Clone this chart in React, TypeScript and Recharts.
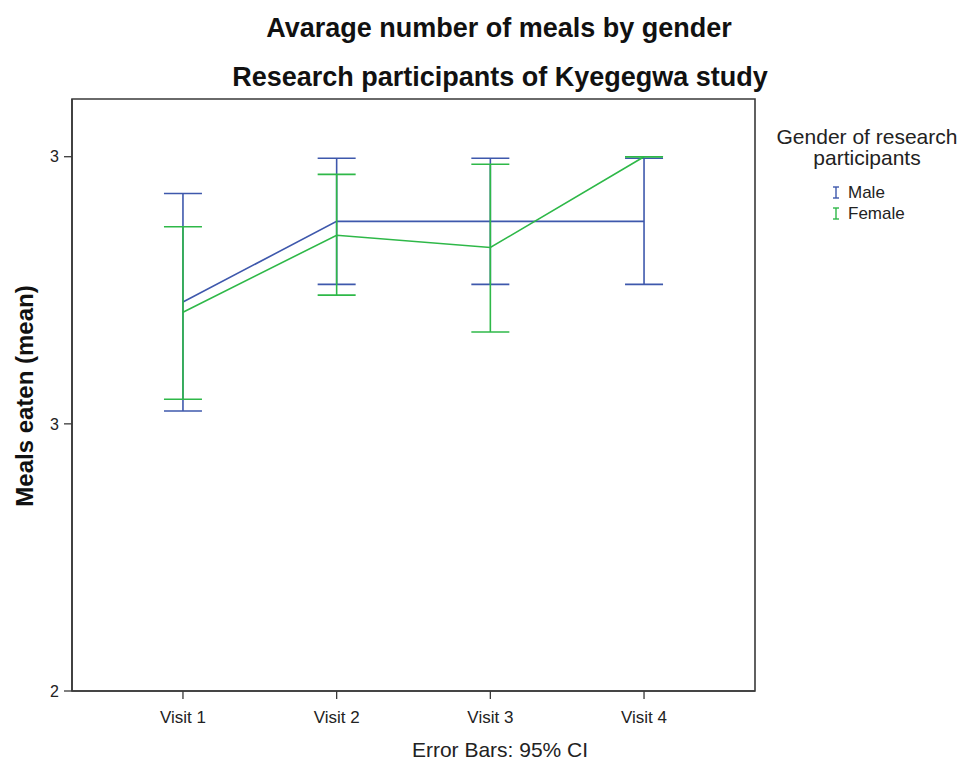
import { LineChart, Line, XAxis, YAxis, ErrorBar, ReferenceArea } from "recharts";

const visits = ["Visit 1", "Visit 2", "Visit 3", "Visit 4"];

// means and 95% CI bounds
const maleMean = [2.728, 2.879, 2.879, 2.879];
const maleLow = [2.524, 2.761, 2.761, 2.761];
const maleHigh = [2.931, 2.997, 2.997, 2.997];

const femaleMean = [2.709, 2.853, 2.83, 3.0];
const femaleLow = [2.546, 2.741, 2.672, 3.0];
const femaleHigh = [2.869, 2.967, 2.986, 3.0];

const yTicks = [2, 2.5, 3];

const X_DOMAIN: [number, number] = [0.278, 4.722];
const Y_DOMAIN: [number, number] = [2, 3.108];

const BLUE = "#3e58ac";
const GREEN = "#2eb848";
const FONT = "'Liberation Sans', Arial, sans-serif";

const data = visits.map((v, i) => ({
  x: i + 1,
  visit: v,
  male: maleMean[i],
  female: femaleMean[i],
  maleErr: [maleMean[i] - maleLow[i], maleHigh[i] - maleMean[i]],
  femaleErr: [femaleMean[i] - femaleLow[i], femaleHigh[i] - femaleMean[i]],
}));

function BarIcon({ color }: { color: string }) {
  return (
    <svg width={8} height={13} style={{ marginRight: 8 }}>
      <line x1={1} y1={1} x2={7} y2={1} stroke={color} strokeWidth={1.4} />
      <line x1={4} y1={1} x2={4} y2={12} stroke={color} strokeWidth={1.4} />
      <line x1={1} y1={12} x2={7} y2={12} stroke={color} strokeWidth={1.4} />
    </svg>
  );
}

export default function App() {
  const frame = "#3a3a3a";
  return (
    <div
      style={{
        position: "absolute",
        left: 0,
        top: 0,
        width: 961,
        height: 763,
        background: "#fff",
        fontFamily: FONT,
      }}
    >
      <div
        style={{
          position: "absolute",
          left: 0,
          width: 998,
          top: 13,
          textAlign: "center",
          fontSize: 27,
          fontWeight: "bold",
          color: "#111",
          whiteSpace: "nowrap",
        }}
      >
        Avarage number of meals by gender
      </div>
      <div
        style={{
          position: "absolute",
          left: 0,
          width: 1000,
          top: 62,
          textAlign: "center",
          fontSize: 27,
          fontWeight: "bold",
          color: "#111",
          whiteSpace: "nowrap",
        }}
      >
        Research participants of Kyegegwa study
      </div>

      <LineChart
        width={961}
        height={763}
        data={data}
        margin={{ top: 99, right: 206, bottom: 42, left: 42 }}
      >
        <XAxis
          dataKey="x"
          type="number"
          domain={X_DOMAIN}
          ticks={[1, 2, 3, 4]}
          tickFormatter={(v: number) => visits[v - 1]}
          height={30}
          tickSize={8}
          tickMargin={12}
          axisLine={{ stroke: frame, strokeWidth: 1.6 }}
          tickLine={{ stroke: frame, strokeWidth: 1.3 }}
          tick={{ fill: "#222", fontSize: 17, fontFamily: FONT }}
          allowDataOverflow
        />
        <YAxis
          type="number"
          domain={Y_DOMAIN}
          ticks={yTicks}
          tickFormatter={(v: number) => String(Math.round(v))}
          width={30}
          tickSize={8}
          tickMargin={5}
          axisLine={{ stroke: frame, strokeWidth: 1.6 }}
          tickLine={{ stroke: frame, strokeWidth: 1.3 }}
          tick={{ fill: "#222", fontSize: 16, fontFamily: FONT }}
          allowDataOverflow
        />
        <ReferenceArea
          x1={X_DOMAIN[0]}
          x2={X_DOMAIN[1]}
          y1={Y_DOMAIN[0]}
          y2={Y_DOMAIN[1]}
          fill="none"
          stroke={frame}
          strokeWidth={1.6}
          ifOverflow="visible"
        />
        <Line
          dataKey="male"
          stroke={BLUE}
          strokeWidth={1.6}
          dot={false}
          isAnimationActive={false}
        >
          <ErrorBar
            dataKey="maleErr"
            direction="y"
            width={19}
            stroke={BLUE}
            strokeWidth={1.6}
            isAnimationActive={false}
          />
        </Line>
        <Line
          dataKey="female"
          stroke={GREEN}
          strokeWidth={1.6}
          dot={false}
          isAnimationActive={false}
        >
          <ErrorBar
            dataKey="femaleErr"
            direction="y"
            width={19}
            stroke={GREEN}
            strokeWidth={1.6}
            isAnimationActive={false}
          />
        </Line>
      </LineChart>

      <div
        style={{
          position: "absolute",
          left: 0,
          width: 1000,
          top: 738,
          textAlign: "center",
          fontSize: 21,
          color: "#222",
        }}
      >
        Error Bars: 95% CI
      </div>

      <div
        style={{
          position: "absolute",
          left: 25,
          top: 396,
          transform: "translate(-50%, -50%) rotate(-90deg)",
          whiteSpace: "nowrap",
          fontSize: 24,
          fontWeight: "bold",
          color: "#111",
        }}
      >
        Meals eaten (mean)
      </div>

      <div
        style={{
          position: "absolute",
          left: 767,
          width: 200,
          top: 126,
          textAlign: "center",
          fontSize: 21,
          lineHeight: "21px",
          color: "#222",
          whiteSpace: "nowrap",
        }}
      >
        Gender of research
        <br />
        participants
      </div>
      <div
        style={{
          position: "absolute",
          left: 832,
          top: 182,
          fontSize: 17,
          lineHeight: "21px",
          color: "#222",
        }}
      >
        <div style={{ display: "flex", alignItems: "center" }}>
          <BarIcon color={BLUE} />
          Male
        </div>
        <div style={{ display: "flex", alignItems: "center" }}>
          <BarIcon color={GREEN} />
          Female
        </div>
      </div>
    </div>
  );
}
